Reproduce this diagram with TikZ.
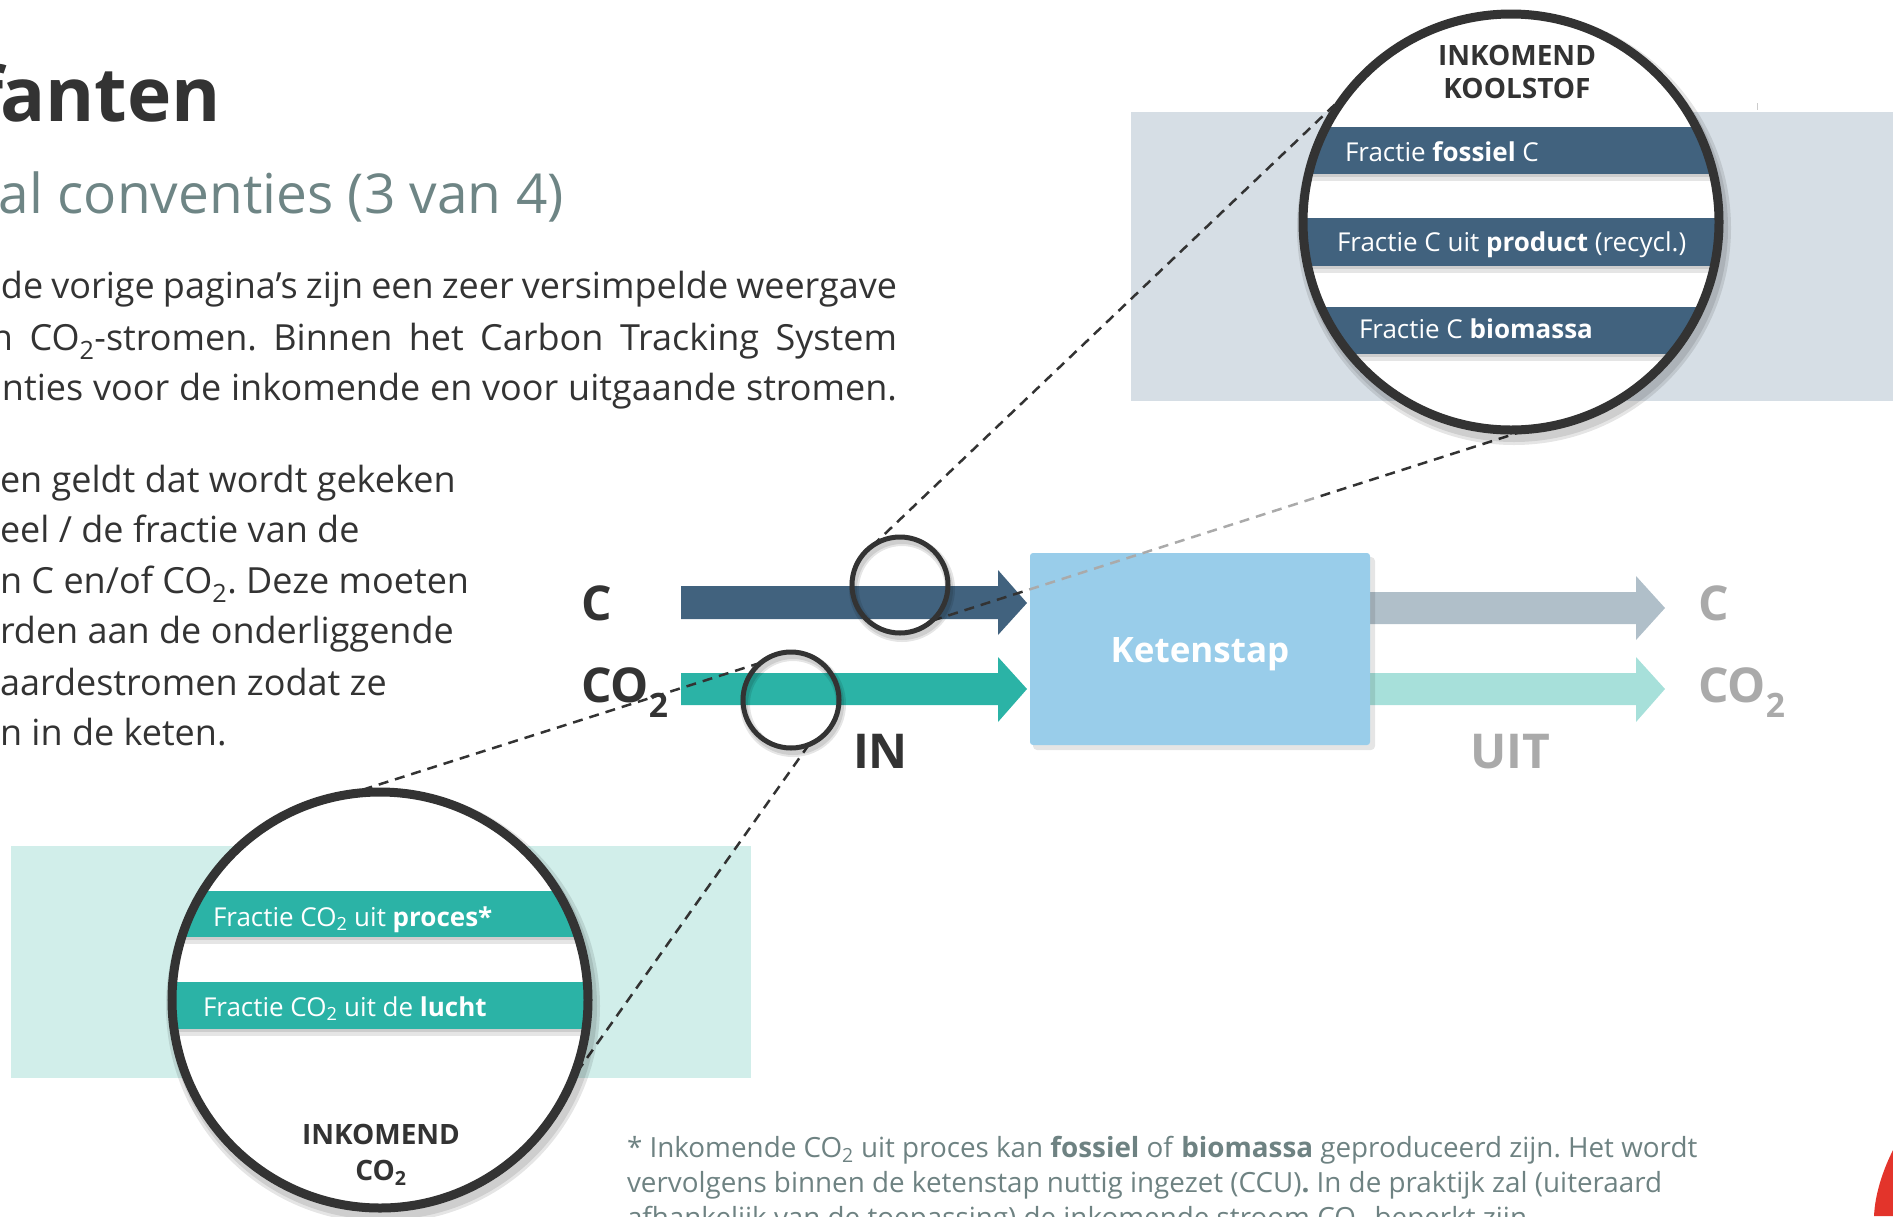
\documentclass[tikz,border=0pt]{standalone}
\usepackage{fontspec}
\setmainfont{Open Sans}
\usetikzlibrary{calc}
\definecolor{ink}{HTML}{333333}
\definecolor{subgrey}{HTML}{6E8585}
\definecolor{notegrey}{HTML}{6E8282}
\definecolor{cblue}{HTML}{41627E}
\definecolor{cteal}{HTML}{2BB3A6}
\definecolor{boxblue}{HTML}{99CDEA}
\definecolor{outgrey}{HTML}{B0BFC9}
\definecolor{outteal}{HTML}{A7E0DA}
\definecolor{panelgrey}{HTML}{D6DEE5}
\definecolor{panelteal}{HTML}{D1EEEA}
\definecolor{dimgrey}{HTML}{AAAAAA}
\definecolor{brandred}{HTML}{E3342B}
\newcommand{\fsz}[1]{\fontsize{#1bp}{#1bp}\selectfont}
\frenchspacing

\begin{document}
\begin{tikzpicture}[x=1bp,y=-1bp,
  every node/.style={inner sep=0pt, outer sep=0pt},
  body/.style={font=\fsz{36}, text=ink, anchor=base west},
  note/.style={font=\fsz{27.8}, text=notegrey, anchor=base west},
  flowlabel/.style={font=\fsz{48}\bfseries, text=ink, anchor=base west},
  outlabel/.style={font=\fsz{48}\bfseries, text=dimgrey, anchor=base west},
  bartext/.style={font=\fsz{26}, text=white, anchor=base west},
  lenshead/.style={font=\fsz{28}\bfseries, text=ink, anchor=base},
  lens/.style={circle, draw=ink, line width=5bp, minimum size=96bp},
  zoomlens/.style={circle, draw=ink, line width=9bp, minimum size=416bp},
  ringshadow/.style={draw=black, opacity=0.10},
  guide/.style={draw=ink, line width=2.5bp, dash pattern=on 10bp off 7bp},
  guidelight/.style={draw=dimgrey, line width=2.5bp, dash pattern=on 10bp off 7bp},
  barshadow/.style={fill=black, opacity=0.10},
]
\useasboundingbox (0,0) rectangle (1893,1216);
\clip (0,0) rectangle (1893,1216);

% ---------- heading ----------
\node[font=\fsz{75}\bfseries, text=ink, anchor=base east] (ttlf) at (4,121) {f};
\node[font=\fsz{75}\bfseries, text=ink, anchor=base west] (ttl) at (0,121) {anten};
\node[font=\fsz{55}, text=subgrey, anchor=base west] (sub) at (-1,213) {al conventies (3 van 4)};

% ---------- body text ----------
\node[body, anchor=base east] (pa1) at (897,298) {\makebox[896bp][s]{de vorige pagina’s zijn een zeer versimpelde weergave}};
\node[body, anchor=base east] (pa2) at (897,350) {\makebox[906bp][s]{n CO\textsubscript{2}-stromen. Binnen het Carbon Tracking System}};
\node[body, anchor=base east] (pa3) at (897,400) {\makebox[895bp][s]{nties voor de inkomende en voor uitgaande stromen.}};

\node[body] (pb1) at (0,492) {en geldt dat wordt gekeken};
\node[body] (pb2) at (0,542) {eel / de fractie van de};
\node[body] (pb3) at (0,593) {n C en/of CO\textsubscript{2}. Deze moeten};
\node[body] (pb4) at (0,643) {rden aan de onderliggende};
\node[body] (pb5) at (0,695) {aardestromen zodat ze};
\node[body] (pb6) at (0,745) {n in de keten.};

% ---------- background panels ----------
\fill[panelgrey] (1131,112) rectangle (1893,401);
\fill[panelteal] (11,846) rectangle (751,1078);
\draw[dimgrey!60, line width=1bp] (1757,103) -- (1757,110);

% ---------- flow arrows ----------
\fill[cblue] (681,586) -- (998,586) -- (998,570) -- (1027,603) -- (998,635) -- (998,619) -- (681,619) -- cycle;
\fill[cteal] (681,673) -- (998,673) -- (998,657) -- (1027,689) -- (998,722) -- (998,705) -- (681,705) -- cycle;
\fill[outgrey] (1370,592) -- (1636,592) -- (1636,576) -- (1665,608) -- (1636,640) -- (1636,624) -- (1370,624) -- cycle;
\fill[outteal] (1370,673) -- (1636,673) -- (1636,657) -- (1665,689) -- (1636,722) -- (1636,705) -- (1370,705) -- cycle;

% ---------- process step ----------
\fill[black, opacity=0.10, rounded corners=4bp] (1033,557) rectangle (1375,750);
\node[fill=boxblue, rounded corners=3bp, minimum width=340bp, minimum height=192bp] (kstap) at (1200,649) {};
\node[font=\fsz{35}\bfseries, text=white, anchor=base] (kstapt) at (1200,662) {Ketenstap};

% ---------- flow labels ----------
\node[flowlabel] (lc) at (581,620) {C};
\node[flowlabel] (lco) at (581,702) {CO\textsubscript{2}};
\node[flowlabel] (lin) at (853,768) {IN};
\node[outlabel] (luit) at (1470,768) {UIT};
\node[outlabel] (rc) at (1698,620) {C};
\node[outlabel] (rco) at (1698,702) {CO\textsubscript{2}};

% ---------- lens positions ----------
\coordinate (lensCpos) at (900,585);
\coordinate (lensCOpos) at (791,700);
\coordinate (zoomCpos) at (1511,222);
\coordinate (zoomCOpos) at (380,1000);
\node[lens, draw=none] (lensC) at (lensCpos) {};
\node[lens, draw=none] (lensCO) at (lensCOpos) {};
\node[zoomlens, draw=none] (zoomC) at (zoomCpos) {};
\node[zoomlens, draw=none] (zoomCO) at (zoomCOpos) {};

% ---------- guide lines ----------
\draw[guide] (lensC.125) -- (zoomC.127);
\begin{scope}
  \clip (0,0) rectangle (1029,1216);
  \draw[guide] (lensC.-48) -- (zoomC.-85);
\end{scope}
\begin{scope}
  \clip (1320,0) rectangle (1893,1216);
  \draw[guide] (lensC.-48) -- (zoomC.-85);
\end{scope}
\begin{scope}
  \clip (1029,0) rectangle (1320,1216);
  \draw[guidelight] (lensC.-48) -- (zoomC.-85);
\end{scope}
\draw[guide] (lensCO.129) -- (zoomCO.99);
\draw[guide] (lensCO.-68) -- (zoomCO.-22);

% ---------- small lenses ----------
\draw[ringshadow, line width=10bp] ($(lensCpos)+(2,4)$) circle[radius=48bp];
\draw[ringshadow, line width=6bp] ($(lensCpos)+(2,4)$) circle[radius=48bp];
\draw[ringshadow, line width=10bp] ($(lensCOpos)+(2,4)$) circle[radius=48bp];
\draw[ringshadow, line width=6bp] ($(lensCOpos)+(2,4)$) circle[radius=48bp];
\node[lens] at (lensCpos) {};
\node[lens] at (lensCOpos) {};

% ---------- magnified view: incoming carbon ----------
\draw[ringshadow, line width=18bp] ($(zoomCpos)+(3,6)$) circle[radius=208bp];
\draw[ringshadow, line width=12bp] ($(zoomCpos)+(3,6)$) circle[radius=208bp];
\fill[white] (zoomCpos) circle[radius=208bp];
\begin{scope}
  \clip (zoomCpos) circle[radius=208bp];
  \fill[barshadow] (1290,174) rectangle (1730,181);
  \fill[barshadow] (1290,174) rectangle (1730,177);
  \fill[barshadow] (1290,266) rectangle (1730,273);
  \fill[barshadow] (1290,266) rectangle (1730,269);
  \fill[barshadow] (1290,354) rectangle (1730,361);
  \fill[barshadow] (1290,354) rectangle (1730,357);
  \fill[cblue] (1290,127) rectangle (1730,174);
  \fill[cblue] (1290,218) rectangle (1730,266);
  \fill[cblue] (1290,307) rectangle (1730,354);
\end{scope}
\node[bartext] (cf1) at (1345,161) {Fractie \textbf{fossiel} C};
\node[bartext] (cf2) at (1337,251) {Fractie C uit \textbf{product} (recycl.)};
\node[bartext] (cf3) at (1359,338) {Fractie C \textbf{biomassa}};
\node[lenshead] (hc1) at (1517,65) {INKOMEND};
\node[lenshead] (hc2) at (1517,98) {KOOLSTOF};
\node[zoomlens] at (zoomCpos) {};

% ---------- magnified view: incoming CO2 ----------
\draw[ringshadow, line width=18bp] ($(zoomCOpos)+(3,6)$) circle[radius=208bp];
\draw[ringshadow, line width=12bp] ($(zoomCOpos)+(3,6)$) circle[radius=208bp];
\fill[white] (zoomCOpos) circle[radius=208bp];
\begin{scope}
  \clip (zoomCOpos) circle[radius=208bp];
  \fill[barshadow] (160,937) rectangle (600,944);
  \fill[barshadow] (160,937) rectangle (600,940);
  \fill[barshadow] (160,1029) rectangle (600,1036);
  \fill[barshadow] (160,1029) rectangle (600,1032);
  \fill[cteal] (160,891) rectangle (600,937);
  \fill[cteal] (160,982) rectangle (600,1029);
\end{scope}
\node[bartext] (co1) at (213,926) {Fractie CO\textsubscript{2} uit \textbf{proces*}};
\node[bartext] (co2) at (203,1016) {Fractie CO\textsubscript{2} uit de \textbf{lucht}};
\node[lenshead] (hco1) at (381,1144) {INKOMEND};
\node[lenshead] (hco2) at (381,1180) {CO\textsubscript{2}};
\node[zoomlens] at (zoomCOpos) {};

% ---------- footnote ----------
\node[note] (n1) at (627,1157) {* Inkomende CO\textsubscript{2} uit proces kan \textbf{fossiel} of \textbf{biomassa} geproduceerd zijn. Het wordt};
\node[note] (n2) at (627,1192) {vervolgens binnen de ketenstap nuttig ingezet (CCU)\textbf{.} In de praktijk zal (uiteraard};
\node[note] (n3) at (627,1227) {afhankelijk van de toepassing) de inkomende stroom CO\textsubscript{2} beperkt zijn.};

% ---------- corner mark ----------
\fill[brandred] (1893,1150) .. controls (1882,1172) and (1875,1195) .. (1874,1216) -- (1893,1216) -- cycle;
\end{tikzpicture}
\end{document}
